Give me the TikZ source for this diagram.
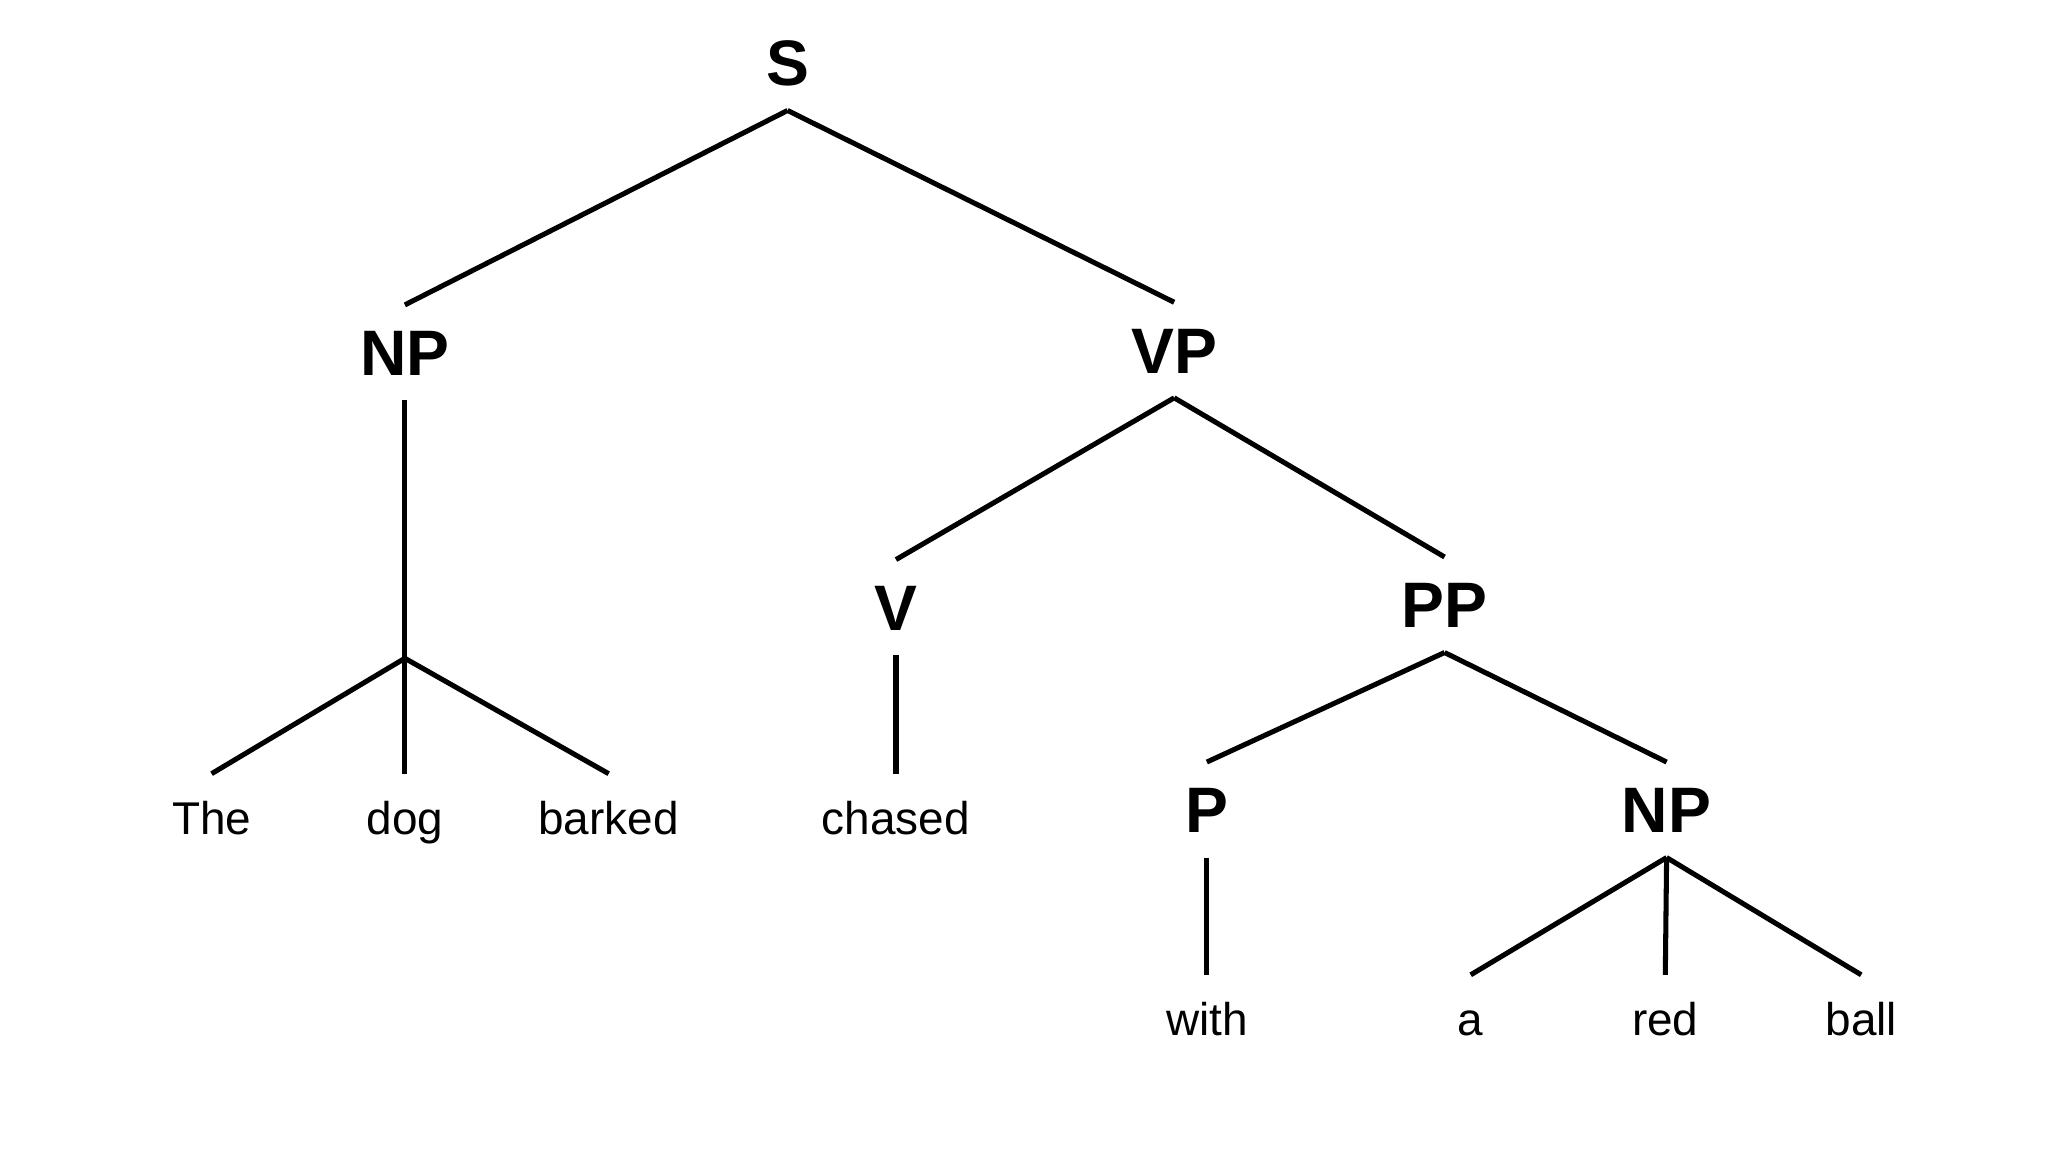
\documentclass[tikz,border=0pt]{standalone}
\usepackage{fontspec}
\setmainfont{Liberation Sans}
\begin{document}
\begin{tikzpicture}[x=0.1mm,y=-0.1mm,
  cat/.style={font=\fontsize{14}{16}\selectfont\bfseries,inner sep=0pt,outer sep=1.9mm,text height=10pt,text depth=0pt},
  word/.style={font=\fontsize{10}{12}\selectfont,inner sep=0pt,outer sep=2.1mm,text height=7.2pt,text depth=0pt},
  edge/.style={line width=1.1pt}]
\useasboundingbox[fill=white] (0,0) rectangle (1568,882);
\node[cat] (S) at (603,48) {S};
\node[cat] (NP) at (310,270) {NP};
\node[cat] (VP) at (899,268) {VP};
\node[cat] (V) at (686,465) {V};
\node[cat] (PP) at (1106,463) {PP};
\node[cat] (P) at (924,620) {P};
\node[cat] (NPb) at (1276,620) {NP};
\node[word] (The) at (162,626) {The};
\node[word] (dog) at (310,626) {dog};
\node[word] (barked) at (466,626) {barked};
\node[word] (chased) at (686,626) {chased};
\node[word] (with) at (924,780) {with};
\node[word] (a) at (1126,780) {a};
\node[word] (red) at (1275,780) {red};
\node[word] (ball) at (1425,780) {ball};
\coordinate (br) at (310,504);
\draw[edge] (S.south) -- (NP.north);
\draw[edge] (S.south) -- (VP.north);
\draw[edge] (NP.south) -- (br);
\draw[edge] (br) -- (The.north);
\draw[edge] (br) -- (dog.north);
\draw[edge] (br) -- (barked.north);
\draw[edge] (VP.south) -- (V.north);
\draw[edge] (VP.south) -- (PP.north);
\draw[edge] (V.south) -- (chased.north);
\draw[edge] (PP.south) -- (P.north);
\draw[edge] (PP.south) -- (NPb.north);
\draw[edge] (P.south) -- (with.north);
\draw[edge] (NPb.south) -- (a.north);
\draw[edge] (NPb.south) -- (red.north);
\draw[edge] (NPb.south) -- (ball.north);
\end{tikzpicture}
\end{document}
